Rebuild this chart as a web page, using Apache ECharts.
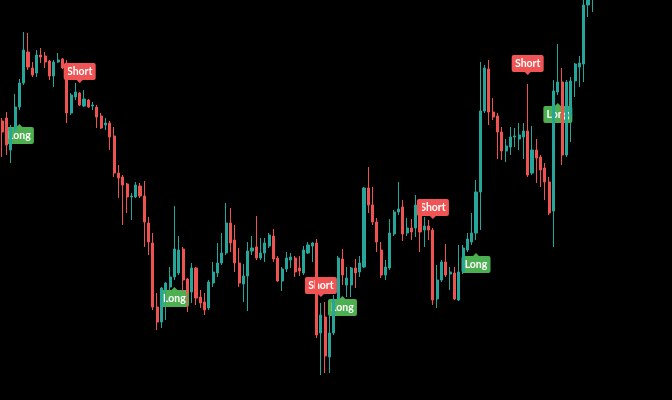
<!DOCTYPE html>
<html><head><meta charset="utf-8">
<script src="https://cdn.jsdelivr.net/npm/echarts@6/dist/echarts.min.js"></script>
<style>html,body{margin:0;padding:0;background:#000;}#c{width:672px;height:400px;}</style>
</head><body><div id="c"></div>
<script>
// OHLC price values (one entry per bar)
const openVals = [279,282,250,270,293,317,348,332,327,345,
344,339,324,338,341,337,287,303,307,294,
300,294,293,284,275,277,264,227,223,216,
203,203,214,204,177,157,93,78,110,113,
123,127,151,121,108,132,103,98,92,117,
127,137,147,177,160,137,116,124,149,153,
142,147,154,164,142,119,131,140,142,132,
127,147,154,157,67,83,43,67,101,141,
115,115,132,128,133,212,195,178,150,125,
132,166,188,193,167,172,172,197,170,174,
170,101,120,138,126,127,100,128,150,158,
167,208,289,331,288,284,268,249,253,263,
261,263,269,227,250,243,232,218,189,308,
318,245,285,319,333,336,395,401];
const closeVals = [268,255,272,293,317,350,333,325,345,343,
338,324,338,340,332,287,305,308,295,301,
293,295,283,272,277,263,227,222,215,203,
204,215,204,178,158,93,78,112,117,123,
151,150,120,107,132,102,97,90,118,128,
137,147,177,157,137,117,124,149,152,142,
147,157,165,141,119,131,142,143,128,129,
150,155,157,65,85,44,67,100,142,125,
122,132,127,137,212,195,178,158,125,133,
167,188,191,166,172,168,195,168,174,170,
100,120,138,125,128,101,128,152,161,167,
208,289,332,288,283,268,249,254,263,264,
265,269,225,250,242,230,218,187,309,318,
245,318,319,336,337,395,402,405];
const highVals = [282,288,275,306,321,368,367,338,350,352,
348,340,340,347,342,340,307,317,308,310,
301,298,295,287,282,279,273,235,225,217,
207,218,217,219,183,167,107,113,118,133,
194,164,153,122,137,133,110,107,120,138,
157,167,197,192,175,152,136,158,164,184,
162,162,167,171,144,133,148,147,144,144,
154,158,158,161,97,98,88,105,144,151,
133,133,141,144,213,233,213,182,158,140,
181,190,218,200,182,181,205,198,183,180,
172,135,140,156,133,133,155,155,167,187,
220,338,335,340,302,287,273,261,273,272,
277,277,316,274,261,245,237,223,320,356,
332,320,323,337,344,405,410,415];
const lowVals = [243,245,237,268,290,315,330,323,323,337,
332,320,313,337,331,277,285,300,294,293,
292,290,272,271,270,250,223,202,175,187,
180,202,202,153,145,90,70,72,80,110,
120,125,108,88,97,95,92,85,90,113,
123,135,145,148,128,113,98,89,145,140,
140,138,152,138,118,109,128,132,123,124,
125,146,138,62,25,27,27,65,100,115,
103,103,112,123,132,187,175,148,122,120,
130,164,185,159,164,160,163,148,153,160,
95,92,118,123,110,100,99,126,148,155,
160,170,287,275,280,241,240,238,245,253,
250,241,223,225,217,213,200,185,153,305,
235,243,258,303,313,318,383,388];

// signal markers: bar index and price at the marker's pointer tip
const shortIdx = [18, 74, 100, 122];
const shortTip = [317, 103, 181, 325];
const longIdx = [4, 40, 79, 110, 129];
const longTip = [276, 113, 104, 147, 297];

// category slots (bars + empty right margin)
const categories = [];
for (let i = 0; i < 156; i++) categories.push('B' + (i + 1));

const candleData = openVals.map((o, i) => [o, closeVals[i], lowVals[i], highVals[i]]);
const shortData = shortIdx.map((x, i) => [x, shortTip[i]]);
const longData = longIdx.map((x, i) => [x, longTip[i]]);

const shortPath = 'path://M2,0 H30 Q32,0 32,2 V15 Q32,17 30,17 H19 L16,20 L13,17 H2 Q0,17 0,15 V2 Q0,0 2,0 Z';
const longPath = 'path://M2,3 H11.5 L14.5,0 L17.5,3 H27 Q29,3 29,5 V18 Q29,20 27,20 H2 Q0,20 0,18 V5 Q0,3 2,3 Z';

const chart = echarts.init(document.getElementById('c'), null, {renderer: 'canvas'});
chart.setOption({
  backgroundColor: '#000000',
  animation: false,
  grid: {left: -0.46, right: -0.21, top: 0, bottom: 0},
  xAxis: {type: 'category', data: categories, show: false, boundaryGap: true},
  yAxis: {type: 'value', min: 0, max: 400, show: false, splitLine: {show: false}},
  series: [
    {
      type: 'candlestick', name: 'Price', data: candleData, z: 3,
      barWidth: 2.6, clip: true,
      itemStyle: {color: '#26a69a', color0: '#ef5350', borderColor: '#26a69a', borderColor0: '#ef5350', borderWidth: 1}
    },
    {
      type: 'scatter', name: 'Short', data: shortData, z: 2, silent: true,
      symbol: shortPath, symbolSize: [32, 20], symbolOffset: [0, -10],
      itemStyle: {color: '#f05454', opacity: 1},
      label: {show: true, position: 'inside', formatter: 'Short', color: '#ffffff', fontSize: 10.5, fontWeight: 'bold', fontFamily: 'Lato', offset: [0, -1.5]}
    },
    {
      type: 'scatter', name: 'Long', data: longData, z: 2, silent: true,
      symbol: longPath, symbolSize: [29, 20], symbolOffset: [0, 10],
      itemStyle: {color: '#4caf50', opacity: 1},
      label: {show: true, position: 'inside', formatter: 'Long', color: '#ffffff', fontSize: 10.5, fontWeight: 'bold', fontFamily: 'Lato', offset: [0, 1.5]}
    }
  ]
});
</script>
</body></html>
